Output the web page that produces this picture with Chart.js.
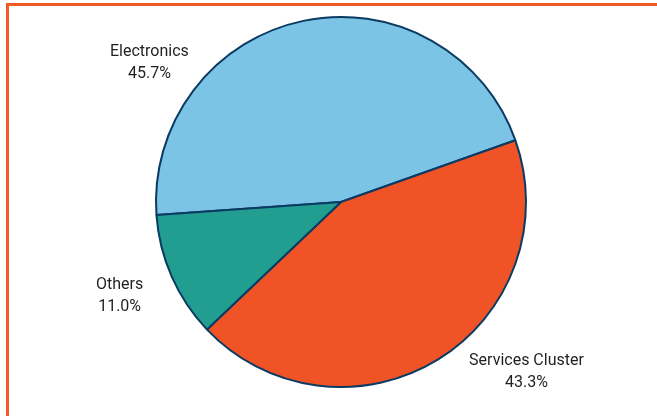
<!DOCTYPE html>
<html>
<head>
<meta charset="utf-8">
<script src="https://cdn.jsdelivr.net/npm/chart.js@4.4.1/dist/chart.umd.min.js"></script>
<style>
  html, body { margin: 0; padding: 0; background: #ffffff; overflow: hidden; }
  #wrap { position: relative; width: 657px; height: 416px; }
  #frame {
    position: absolute; left: 6px; top: 3px; width: 700px; height: 460px;
    border: 3px solid #f05a28; box-sizing: border-box;
  }
  #chart { position: absolute; left: 0; top: 0; }
</style>
</head>
<body>
<div id="wrap">
  <div id="frame"></div>
  <canvas id="chart" width="657" height="416"></canvas>
</div>
<script>
// Share by segment (percent)
const categories = ['Electronics', 'Services Cluster', 'Others'];
const shares = [45.7, 43.3, 11.0];
const sliceColors = ['#7cc4e6', '#f05426', '#229e90'];

// Where each outside label sits: angle (deg, clockwise from 3 o'clock) and distance in radii
const labelPlacement = [
    { angle: -144, dist: 1.28 },
    { angle: 42.5, dist: 1.36 },
    { angle: 157, dist: 1.30 }
];

const outsideLabels = {
    id: 'outsideLabels',
    afterDraw(chart) {
        const ctx = chart.ctx;
        const arcs = chart.getDatasetMeta(0).data;
        ctx.save();
        ctx.font = '16px Roboto';
        ctx.fillStyle = '#231f20';
        ctx.textAlign = 'center';
        ctx.textBaseline = 'middle';
        arcs.forEach((arc, i) => {
            const p = labelPlacement[i];
            const a = p.angle * Math.PI / 180;
            const x = arc.x + Math.cos(a) * arc.outerRadius * p.dist;
            const y = arc.y + Math.sin(a) * arc.outerRadius * p.dist;
            ctx.fillText(categories[i], x, y - 11);
            ctx.fillText(shares[i].toFixed(1) + '%', x, y + 11);
        });
        ctx.restore();
    }
};

new Chart(document.getElementById('chart'), {
    type: 'pie',
    data: {
        labels: categories,
        datasets: [{
            data: shares,
            backgroundColor: sliceColors,
            borderColor: '#0b3a63',
            borderWidth: 2,
            hoverOffset: 0
        }]
    },
    options: {
        responsive: false,
        animation: false,
        rotation: 266,
        layout: { padding: { left: 155, right: 130, top: 16, bottom: 28 } },
        plugins: {
            legend: { display: false },
            tooltip: { enabled: false }
        }
    },
    plugins: [outsideLabels]
});
</script>
</body>
</html>
